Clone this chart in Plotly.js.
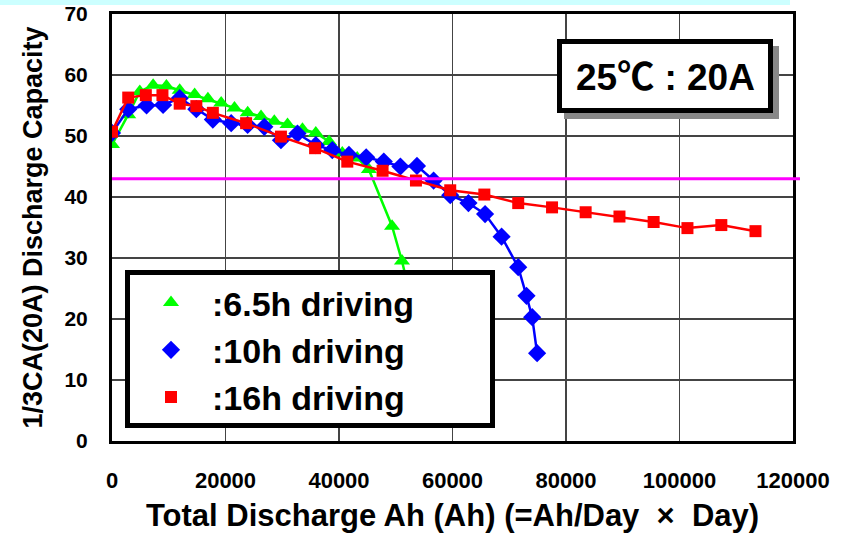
<!DOCTYPE html>
<html>
<head>
<meta charset="utf-8">
<script src="https://cdn.plot.ly/plotly-3.0.1.min.js"></script>
<style>html,body{margin:0;padding:0;background:#fff;}#chart{width:850px;height:536px;}</style>
</head>
<body>
<div id="chart"></div>
<script>
// Series: 6.5h driving (green triangles)
const ah65 = [0, 2860, 4900, 7250, 9590, 11930, 14560, 16900, 19240, 21580, 23910, 26260, 28600, 30930, 33560, 35910, 38250, 40580, 43210, 45260, 49350, 51100, 52500];
const cap65 = [48.6, 53.5, 57.3, 58.3, 58.2, 57.5, 56.8, 56.1, 55.4, 54.6, 53.8, 53.2, 52.4, 51.9, 51.1, 50.5, 49.1, 47.2, 46.4, 44.5, 35.2, 29.5, 24.0];
// Series: 10h driving (blue diamonds)
const ah10 = [0, 2860, 6090, 9000, 11930, 14860, 17770, 21000, 23900, 26840, 29770, 32680, 35910, 38820, 41750, 44790, 47890, 50820, 53740, 56670, 59600, 62810, 65740, 68650, 71580, 73040, 74040, 74910];
const cap10 = [50.5, 54.4, 55.0, 55.1, 56.2, 54.4, 52.7, 52.1, 51.8, 51.5, 49.3, 50.4, 48.5, 47.7, 46.9, 46.5, 45.8, 45.0, 45.1, 42.7, 40.3, 39.0, 37.2, 33.5, 28.5, 23.8, 20.3, 14.4];
// Series: 16h driving (red squares)
const ah16 = [0, 2860, 5960, 8890, 11930, 14860, 17770, 23630, 29770, 35790, 41460, 47680, 53560, 59600, 65610, 71580, 77540, 83460, 89420, 95440, 101400, 107370, 113390];
const cap16 = [50.7, 56.3, 56.7, 56.7, 55.3, 54.9, 53.8, 52.1, 49.9, 48.0, 45.8, 44.3, 42.7, 41.1, 40.4, 39.0, 38.3, 37.5, 36.8, 35.9, 34.9, 35.4, 34.4];
// Reference level
const refLevel = 43;
const seriesNames = [':6.5h driving', ':10h driving', ':16h driving'];
const xTickVals = [0, 20000, 40000, 60000, 80000, 100000, 120000];
const yTickVals = [0, 10, 20, 30, 40, 50, 60, 70];
const condText = '25℃ : 20A';

const FONT = 'Arial, "Liberation Sans", "Noto Sans CJK JP", sans-serif';

function pair(x, y, color, symbol, size, name) {
  return [
    {x: x, y: y, type: 'scatter', mode: 'lines', line: {color: color, width: 2.5}, showlegend: false, hoverinfo: 'skip'},
    {x: x, y: y, type: 'scatter', mode: 'markers', name: name,
     marker: {color: color, symbol: symbol, size: size, line: {width: 0}}}
  ];
}

const data = [].concat(
  pair(ah65, cap65, '#00ff00', 'triangle-up', 14, seriesNames[0]),
  pair(ah10, cap10, '#0000ff', 'diamond', 14, seriesNames[1]),
  pair(ah16, cap16, '#ff0000', 'square', 12, seriesNames[2])
);

const L = 112, R = 793, T = 14, B = 441;
const px = v => (v - L) / (R - L);
const py = v => (B - v) / (B - T);

const layout = {
  width: 850, height: 536,
  margin: {l: L, r: 850 - R, t: T, b: 536 - B},
  paper_bgcolor: '#fff', plot_bgcolor: '#fff',
  font: {family: FONT, color: '#000', weight: 'bold'},
  showlegend: true,
  legend: {
    x: px(130), y: py(274), xanchor: 'left', yanchor: 'top',
    bgcolor: 'rgba(0,0,0,0)', borderwidth: 0,
    font: {family: FONT, size: 34, color: '#000', weight: 'bold'},
    itemwidth: 72, tracegroupgap: 0
  },
  xaxis: {
    range: [0, 120000], tickvals: xTickVals, ticktext: xTickVals.map(String),
    showgrid: true, gridcolor: '#444', gridwidth: 1.5,
    showline: true, linecolor: '#000', linewidth: 3, mirror: true,
    ticks: '', zeroline: false, ticklabelstandoff: 18,
    tickfont: {family: FONT, size: 22, color: '#000', weight: 'bold'},
    title: {text: 'Total Discharge Ah (Ah) (=Ah/Day  ×  Day)', standoff: 12,
            font: {family: FONT, size: 31, color: '#000', weight: 'bold'}}
  },
  yaxis: {
    range: [0, 70], tickvals: yTickVals, ticktext: yTickVals.map(String),
    showgrid: true, gridcolor: '#444', gridwidth: 1.5,
    showline: true, linecolor: '#000', linewidth: 3, mirror: true,
    ticks: '', zeroline: false, ticklabelstandoff: 17,
    tickfont: {family: FONT, size: 21, color: '#000', weight: 'bold'},
    title: {text: '1/3CA(20A) Discharge Capacity', standoff: 14,
            font: {family: FONT, size: 27, color: '#000', weight: 'bold'}}
  },
  shapes: [
    {type: 'rect', xref: 'paper', yref: 'paper', x0: px(0), x1: px(790), y0: py(5), y1: py(0),
     fillcolor: '#ccffff', line: {width: 0}, layer: 'below'},
    {type: 'line', xref: 'paper', yref: 'y', x0: 0, x1: px(800), y0: refLevel, y1: refLevel,
     line: {color: '#ff00ff', width: 3}, layer: 'above'},
    {type: 'rect', xref: 'paper', yref: 'paper', x0: px(564), x1: px(779), y0: py(119), y1: py(46),
     fillcolor: '#888', line: {width: 0}, layer: 'above'},
    {type: 'rect', xref: 'paper', yref: 'paper', x0: px(559.5), x1: px(770.5), y0: py(110.5), y1: py(41.5),
     fillcolor: '#fff', line: {color: '#000', width: 5}, layer: 'above'},
    {type: 'rect', xref: 'paper', yref: 'paper', x0: px(127.5), x1: px(492.5), y0: py(425.5), y1: py(272.5),
     fillcolor: '#fff', line: {color: '#000', width: 5}, layer: 'above'}
  ],
  annotations: [
    {xref: 'paper', yref: 'paper', x: px(665), y: py(77), xanchor: 'center', yanchor: 'middle',
     text: condText, showarrow: false,
     font: {family: FONT, size: 37, color: '#000', weight: 'bold'}}
  ]
};

Plotly.newPlot('chart', data, layout, {displayModeBar: false, staticPlot: true});
</script>
</body>
</html>
